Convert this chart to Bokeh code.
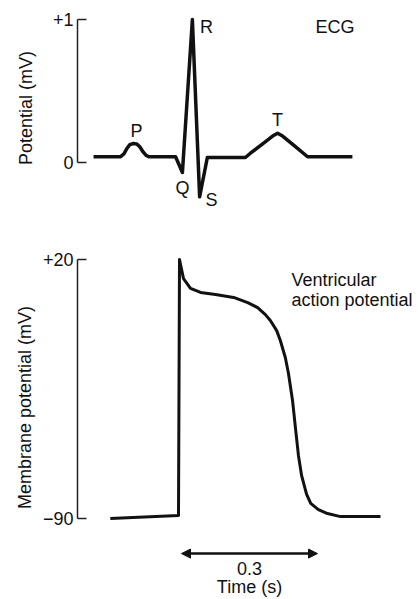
from bokeh.plotting import figure
from bokeh.layouts import column
from bokeh.models import (LinearAxis, FixedTicker, Range1d, Label, Arrow, NormalHead)
from bokeh.embed import file_html
from bokeh.resources import INLINE

# ---------------- data ----------------
# ECG trace (time in s, potential in mV)
ecg_t = [-0.194, -0.135, -0.127, -0.120, -0.114, -0.106, -0.099, -0.092, -0.085, -0.078,
         -0.072, -0.013, 0.002, 0.024, 0.040, 0.057, 0.141, 0.152, 0.179, 0.201,
         0.212, 0.223, 0.252, 0.278, 0.377]
ecg_v = [0.04, 0.04, 0.06, 0.10, 0.125, 0.133, 0.13, 0.11, 0.075, 0.05,
         0.04, 0.04, -0.07, 1.0, -0.24, 0.035, 0.035, 0.065, 0.13, 0.185,
         0.205, 0.185, 0.11, 0.04, 0.04]
wave_names = ["P", "Q", "R", "S", "T"]
wave_t = [-0.099, 0.002, 0.055, 0.066, 0.212]
wave_v = [0.217, -0.175, 0.951, -0.259, 0.294]
ecg_ticks = [0, 1]
ecg_tick_labels = {0: "0", 1: "+1"}

# Ventricular action potential (time in s, membrane potential in mV)
ap_t = [-0.157, -0.0066, -0.0044, 0.0044, 0.0199, 0.042, 0.075, 0.115, 0.146, 0.168,
        0.185, 0.196, 0.210, 0.218, 0.229, 0.236, 0.245, 0.252, 0.258, 0.265,
        0.276, 0.285, 0.302, 0.322, 0.351, 0.439]
ap_v = [-90.0, -88.7, 20.0, 11.9, 7.7, 6.0, 5.1, 3.9, 1.7, -0.4,
        -3.4, -5.9, -10.2, -14.4, -21.6, -28.4, -40.0, -52.7, -63.3, -71.8,
        -79.8, -83.6, -86.2, -87.9, -89.2, -89.2]
ap_ticks = [-90, 20]
ap_tick_labels = {-90: "\u221290", 20: "+20"}
span_start, span_end = 0.0, 0.3

FONT = "Liberation Sans"
FS = "18px"
INK = "#111111"

xr = Range1d(-0.2294, 0.5272)


def base_fig(h, yr):
    p = figure(width=420, height=h, x_range=xr, y_range=yr,
               output_backend="svg", toolbar_location=None,
               x_axis_location=None, y_axis_location=None,
               min_border_left=77, min_border_right=0,
               min_border_top=0, min_border_bottom=0)
    p.grid.visible = False
    p.outline_line_color = None
    p.background_fill_color = "white"
    p.border_fill_color = "white"
    return p


def add_axis(p, ticks, labels, title, standoff):
    ax = LinearAxis(ticker=FixedTicker(ticks=ticks), bounds=(min(ticks), max(ticks)),
                    major_label_overrides=labels,
                    major_tick_in=9, major_tick_out=0,
                    minor_tick_in=0, minor_tick_out=0,
                    axis_line_width=1.5, axis_line_color="#222222",
                    major_tick_line_width=1.5, major_tick_line_color="#222222",
                    major_label_standoff=4,
                    major_label_text_font=FONT, major_label_text_font_size=FS,
                    major_label_text_color=INK,
                    axis_label=title, axis_label_standoff=standoff,
                    axis_label_text_font=FONT, axis_label_text_font_size=FS,
                    axis_label_text_font_style="normal", axis_label_text_color=INK)
    p.add_layout(ax, "left")


# ---------------- ECG ----------------
p1 = base_fig(215, Range1d(-0.3706, 1.1329))
add_axis(p1, ecg_ticks, ecg_tick_labels, "Potential (mV)", 14)
p1.line(ecg_t, ecg_v, line_width=3.5, line_color=INK, line_join="round")
p1.text(wave_t, wave_v, text=wave_names, text_font={"value": FONT},
        text_font_size=FS, text_align="center", text_baseline="middle", text_color=INK)
p1.add_layout(Label(x=0.2956, y=0.951, text="ECG", text_font=FONT, text_font_size=FS,
                    text_baseline="middle", text_color=INK))

# ---------------- Action potential ----------------
p2 = base_fig(384, Range1d(-124.4, 38.69))
add_axis(p2, ap_ticks, ap_tick_labels, "Membrane potential (mV)", 5)
p2.line(ap_t, ap_v, line_width=3, line_color=INK, line_join="round")
p2.add_layout(Label(x=0.2427, y=11.5, text="Ventricular", text_font=FONT,
                    text_font_size=FS, text_baseline="middle", text_color=INK))
p2.add_layout(Label(x=0.2427, y=2.6, text="action potential", text_font=FONT,
                    text_font_size=FS, text_baseline="middle", text_color=INK))
p2.add_layout(Arrow(x_start=span_start, y_start=-104.9, x_end=span_end, y_end=-104.9,
                    line_width=2.5, line_color=INK,
                    start=NormalHead(size=9, fill_color=INK, line_color=INK),
                    end=NormalHead(size=9, fill_color=INK, line_color=INK)))
p2.add_layout(Label(x=(span_start + span_end) / 2, y=-111.2, text="0.3", text_font=FONT,
                    text_font_size=FS, text_align="center", text_baseline="middle",
                    text_color=INK))
p2.add_layout(Label(x=(span_start + span_end) / 2, y=-119.0, text="Time (s)", text_font=FONT,
                    text_font_size=FS, text_align="center", text_baseline="middle",
                    text_color=INK))

layout = column(p1, p2, spacing=0)
open("out.html", "w").write(file_html(layout, INLINE))
